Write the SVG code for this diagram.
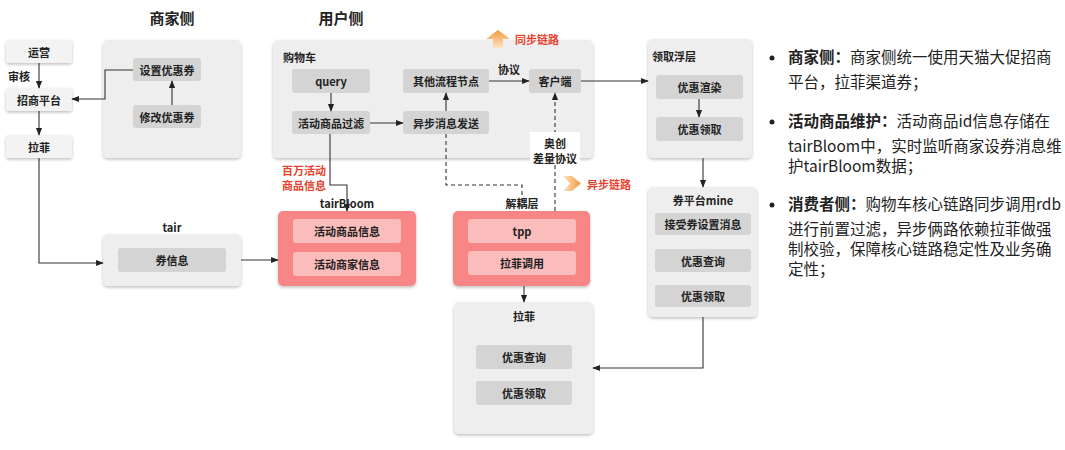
<svg xmlns="http://www.w3.org/2000/svg" width="1065" height="450" viewBox="0 0 1065 450">
<defs>
<filter id="sh" x="-10%" y="-10%" width="120%" height="125%">
<feDropShadow dx="0" dy="1.5" stdDeviation="1.5" flood-color="#000" flood-opacity="0.25"/>
</filter>
<marker id="ah" viewBox="0 0 10 10" refX="9" refY="5" markerWidth="7" markerHeight="7" orient="auto-start-reverse">
<path d="M0 1 L10 5 L0 9 Z" fill="#222"/>
</marker>
<linearGradient id="gup" x1="0" y1="0" x2="0" y2="1">
<stop offset="0" stop-color="#f29a3a"/>
<stop offset="1" stop-color="#fde3c4"/>
</linearGradient>
<linearGradient id="gright" x1="0" y1="0" x2="1" y2="0">
<stop offset="0" stop-color="#fde3c4"/>
<stop offset="1" stop-color="#f29a3a"/>
</linearGradient>
</defs>
<style>
text{font-family:"Noto Sans CJK SC","Liberation Sans",sans-serif;fill:#222;}
.t{font-size:11px;font-weight:600;text-anchor:middle;dominant-baseline:central;}
.lbl{font-size:11px;font-weight:600;}
.title{font-size:15px;font-weight:700;text-anchor:middle;}
.red{font-size:11px;font-weight:600;fill:#e8412c;}
.panel{fill:#eeeeee;filter:url(#sh);}
.node{fill:#f3f3f3;filter:url(#sh);}
.inner{fill:#d4d4d4;}
.rpanel{fill:#f98686;filter:url(#sh);}
.rinner{fill:#fbbcbc;}
.ln{fill:none;stroke:#333;stroke-width:1.1;}
.dash{fill:none;stroke:#333;stroke-width:1.1;stroke-dasharray:4 3;}
.note{font-size:15.5px;fill:#222;}
.note tspan.b{font-weight:700;}
</style>
<rect width="1065" height="450" fill="#ffffff"/>

<text class="title" x="172" y="24">商家侧</text>
<text class="title" x="341" y="24">用户侧</text>

<g id="yunying"><rect class="node" x="6" y="40" width="66" height="23" rx="3"/><text class="t" x="39" y="51.5">运营</text></g>
<text class="lbl" x="8" y="81">审核</text>
<g id="zhaoshang"><rect class="node" x="6" y="88" width="66" height="23" rx="3"/><text class="t" x="39" y="99.5">招商平台</text></g>
<g id="lafei-left"><rect class="node" x="6" y="135" width="66" height="23" rx="3"/><text class="t" x="39" y="146.5">拉菲</text></g>

<g id="merchant">
<rect class="panel" x="103" y="40" width="138" height="118" rx="5"/>
<rect class="inner" x="133" y="58" width="68" height="23" rx="3"/><text class="t" x="167" y="69.5">设置优惠券</text>
<rect class="inner" x="133" y="105" width="68" height="23" rx="3"/><text class="t" x="167" y="116.5">修改优惠券</text>
</g>

<g id="cart">
<rect class="panel" x="273" y="40" width="320" height="118" rx="5"/>
<text class="lbl" x="283" y="62">购物车</text>
<rect class="inner" x="292" y="69" width="78" height="24" rx="3"/><text class="t" x="331" y="81">query</text>
<rect class="inner" x="292" y="111" width="78" height="23" rx="3"/><text class="t" x="331" y="122.5">活动商品过滤</text>
<rect class="inner" x="403" y="69" width="86" height="24" rx="3"/><text class="t" x="446" y="81">其他流程节点</text>
<rect class="inner" x="403" y="111" width="86" height="23" rx="3"/><text class="t" x="446" y="122.5">异步消息发送</text>
<rect class="inner" x="529" y="69" width="52" height="24" rx="3"/><text class="t" x="555" y="81">客户端</text>
<text class="lbl" x="498" y="74">协议</text>
</g>

<g id="sync-legend">
<path d="M498 30 L510 39 L503 39 L503 48 L493 48 L493 39 L486 39 Z" fill="url(#gup)"/>
<text class="red" x="515" y="44">同步链路</text>
</g>
<g id="async-legend">
<path d="M563 176 L572 176 L581 183.5 L572 191 L563 191 L570 183.5 Z" fill="url(#gright)"/>
<text class="red" x="587" y="189">异步链路</text>
</g>

<text class="red" x="282" y="175">百万活动</text>
<text class="red" x="282" y="190">商品信息</text>

<g id="float">
<rect class="panel" x="648" y="39" width="104" height="119" rx="5"/>
<text class="lbl" x="652" y="61">领取浮层</text>
<rect class="inner" x="656" y="75" width="87" height="24" rx="3"/><text class="t" x="699.5" y="87">优惠渲染</text>
<rect class="inner" x="656" y="117" width="87" height="24" rx="3"/><text class="t" x="699.5" y="129">优惠领取</text>
</g>

<g id="mine">
<rect class="panel" x="648" y="187" width="109" height="130" rx="5"/>
<text class="t" x="703" y="200">券平台mine</text>
<rect class="inner" x="655" y="213" width="96" height="22" rx="3"/><text class="t" x="703" y="224">接受券设置消息</text>
<rect class="inner" x="655" y="249" width="96" height="23" rx="3"/><text class="t" x="703" y="260.5">优惠查询</text>
<rect class="inner" x="655" y="285" width="96" height="22" rx="3"/><text class="t" x="703" y="296">优惠领取</text>
</g>

<g id="tair">
<text class="t" x="172" y="227">tair</text>
<rect class="panel" x="103" y="234" width="138" height="52" rx="5"/>
<rect class="inner" x="118" y="248" width="108" height="24" rx="3"/><text class="t" x="172" y="260">券信息</text>
</g>

<g id="tairbloom">
<rect class="rpanel" x="278" y="211" width="138" height="75" rx="5"/>
<rect class="rinner" x="293" y="219" width="108" height="24" rx="3"/><text class="t" x="347" y="231">活动商品信息</text>
<rect class="rinner" x="293" y="252" width="108" height="24" rx="3"/><text class="t" x="347" y="264">活动商家信息</text>
<text class="t" x="347" y="203">tairBloom</text>
</g>

<g id="decouple">
<rect class="rpanel" x="453" y="211" width="137" height="75" rx="5"/>
<rect class="rinner" x="468" y="219" width="108" height="24" rx="3"/><text class="t" x="522" y="231">tpp</text>
<rect class="rinner" x="468" y="251" width="108" height="24" rx="3"/><text class="t" x="522" y="263">拉菲调用</text>
<text class="t" x="522" y="203">解耦层</text>
</g>

<g id="lafei">
<rect class="panel" x="454" y="302" width="139" height="132" rx="5"/>
<text class="t" x="524" y="316">拉菲</text>
<rect class="inner" x="476" y="345" width="96" height="24" rx="3"/><text class="t" x="524" y="357">优惠查询</text>
<rect class="inner" x="476" y="381" width="96" height="24" rx="3"/><text class="t" x="524" y="393">优惠领取</text>
</g>

<g id="connectors">
<path class="ln" d="M39 63 V88" marker-end="url(#ah)"/>
<path class="ln" d="M39 111 V135" marker-end="url(#ah)"/>
<path class="ln" d="M39 158 V263 H103" marker-end="url(#ah)"/>
<path class="ln" d="M133 70 H105 V99 H72" marker-end="url(#ah)"/>
<path class="ln" d="M172 105 V81" marker-end="url(#ah)"/>
<path class="ln" d="M331 93 V111" marker-end="url(#ah)"/>
<path class="ln" d="M370 123 H403" marker-end="url(#ah)"/>
<path class="ln" d="M446 111 V93" marker-end="url(#ah)"/>
<path class="ln" d="M489 81 H529" marker-end="url(#ah)"/>
<path class="ln" d="M581 81 H648" marker-end="url(#ah)"/>
<path class="ln" d="M330 134 V185 H347 V211" marker-end="url(#ah)"/>
<path class="dash" d="M446 134 V185 H522 V209"/>
<path class="dash" d="M555 211 V93" marker-end="url(#ah)"/>
<path class="ln" d="M699 99 V117" marker-end="url(#ah)"/>
<path class="ln" d="M703 158 V187" marker-end="url(#ah)"/>
<path class="ln" d="M703 317 V368 H593" marker-end="url(#ah)"/>
<path class="ln" d="M524 286 V302" marker-end="url(#ah)"/>
<path class="ln" d="M241 260 H278" marker-end="url(#ah)"/>
</g>

<g id="aochuang-label">
<rect x="530" y="132" width="50" height="32" fill="#ffffff"/>
<text class="t" x="555" y="143">奥创</text>
<text class="t" x="555" y="158">差量协议</text>
</g>

<g id="notes">
<circle cx="772" cy="58" r="2.5" fill="#222"/>
<text class="note" x="788" y="63"><tspan class="b">商家侧：</tspan>商家侧统一使用天猫大促招商</text>
<text class="note" x="788" y="88">平台，拉菲渠道券；</text>
<circle cx="772" cy="122" r="2.5" fill="#222"/>
<text class="note" x="788" y="127"><tspan class="b">活动商品维护：</tspan>活动商品id信息存储在</text>
<text class="note" x="788" y="152">tairBloom中，实时监听商家设券消息维</text>
<text class="note" x="788" y="172">护tairBloom数据；</text>
<circle cx="772" cy="205" r="2.5" fill="#222"/>
<text class="note" x="788" y="210"><tspan class="b">消费者侧：</tspan>购物车核心链路同步调用rdb</text>
<text class="note" x="788" y="235">进行前置过滤，异步俩路依赖拉菲做强</text>
<text class="note" x="788" y="255">制校验，保障核心链路稳定性及业务确</text>
<text class="note" x="788" y="275">定性；</text>
</g>
</svg>
